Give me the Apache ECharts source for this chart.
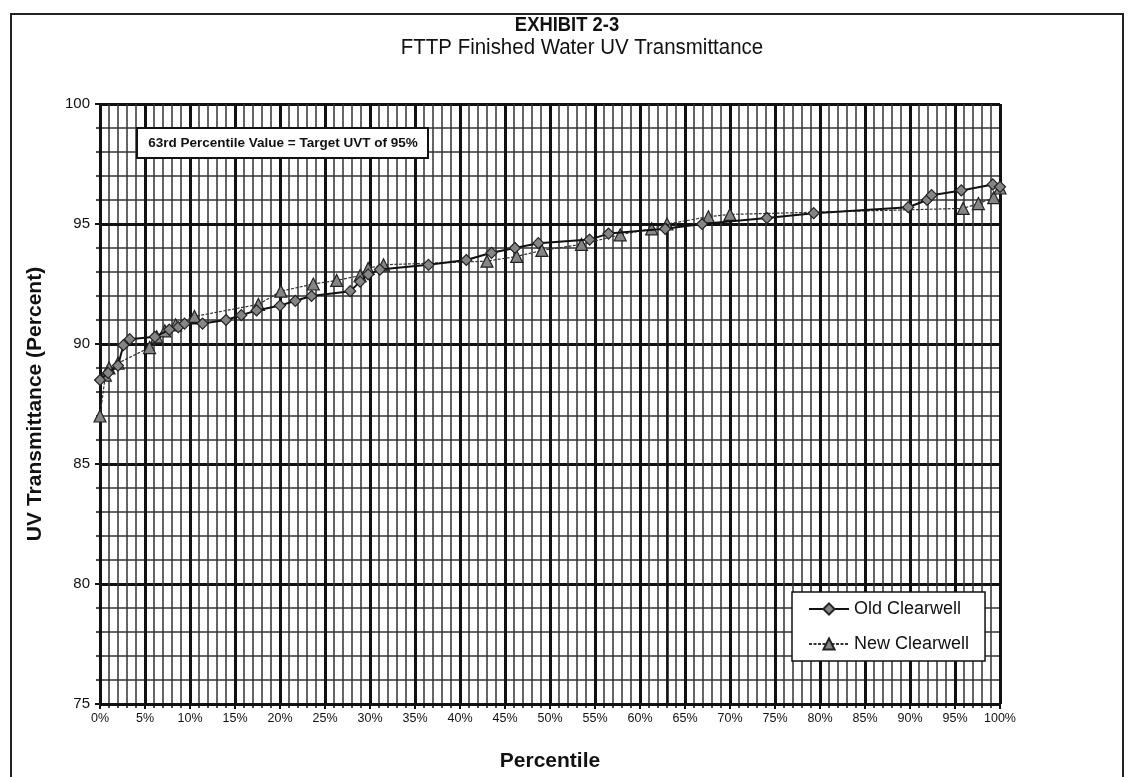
<!DOCTYPE html>
<html>
<head>
<meta charset="utf-8">
<title>FTTP Finished Water UV Transmittance</title>
<script src="https://cdn.jsdelivr.net/npm/echarts@6/dist/echarts.min.js"></script>
<style>
    html, body { margin: 0; padding: 0; background: #fff; }
    #uvtChart { width: 1135px; height: 777px; }
</style>
</head>
<body>
<div id="uvtChart"></div>
<script>
// percentile (%), UVT (%)
var oldPct = [0, 0.9, 2.0, 2.6, 3.3, 6.1, 7.7, 8.7, 9.4, 11.4, 14.0, 15.7, 17.4, 20.0, 21.7, 23.5, 27.8, 28.9, 29.8, 31.1, 36.5, 40.7, 43.5, 46.1, 48.7, 54.4, 56.5, 62.8, 66.9, 74.1, 79.3, 89.8, 91.9, 92.4, 95.7, 99.2, 100];
var oldUvt = [88.5, 88.8, 89.1, 89.95, 90.2, 90.3, 90.6, 90.7, 90.85, 90.85, 91.0, 91.2, 91.4, 91.6, 91.8, 92.0, 92.2, 92.6, 92.9, 93.1, 93.3, 93.5, 93.8, 94.0, 94.2, 94.35, 94.6, 94.8, 95.0, 95.25, 95.45, 95.7, 96.0, 96.2, 96.4, 96.65, 96.55];

var newPct = [0, 0.6, 1.0, 2.0, 5.5, 6.3, 7.2, 8.4, 10.5, 17.6, 20.1, 23.7, 26.3, 28.9, 29.8, 31.5, 43.0, 46.3, 49.1, 53.5, 57.8, 61.3, 63.0, 67.6, 70.0, 95.9, 97.6, 99.3, 100];
var newUvt = [87.0, 88.7, 89.0, 89.2, 89.85, 90.3, 90.55, 90.8, 91.15, 91.65, 92.2, 92.5, 92.65, 92.85, 93.15, 93.3, 93.45, 93.65, 93.9, 94.15, 94.55, 94.8, 95.0, 95.3, 95.4, 95.65, 95.85, 96.1, 96.5];

var targetPct = 63;
var targetUvt = 95;
var seriesNames = ['Old Clearwell', 'New Clearwell'];

(function () {
    'use strict';

    function pairs(xs, ys) {
        var out = [];
        for (var i = 0; i < xs.length; i++) out.push([xs[i], ys[i]]);
        return out;
    }

    var font = 'Liberation Sans, Arial, sans-serif';

    var myChart = echarts.init(document.getElementById('uvtChart'));

    var option = {
        animation: false,
        backgroundColor: '#fff',
        grid: { left: 100, top: 104, width: 900, height: 600 },
        legend: {
            data: seriesNames,
            orient: 'vertical',
            left: 792,
            top: 592,
            padding: [6, 16, 6, 16],
            itemGap: 13,
            itemWidth: 40,
            itemHeight: 14,
            backgroundColor: '#fff',
            borderColor: '#111',
            borderWidth: 1.5,
            textStyle: { fontFamily: font, fontSize: 18, lineHeight: 22, color: '#111' }
        },
        xAxis: {
            type: 'value',
            min: 0,
            max: 100,
            interval: 5,
            name: 'Percentile',
            nameLocation: 'middle',
            nameGap: 47,
            nameTextStyle: { fontFamily: font, fontSize: 21, fontWeight: 'bold', color: '#111' },
            axisLine: { show: true, lineStyle: { color: '#111', width: 2 } },
            axisTick: { show: true, length: 5, lineStyle: { color: '#111', width: 2 } },
            minorTick: { show: true, splitNumber: 5, length: 4, lineStyle: { color: '#111', width: 1.5 } },
            axisLabel: {
                formatter: '{value}%',
                margin: 8,
                fontFamily: font,
                fontSize: 12.5,
                color: '#111'
            },
            splitLine: { show: true, lineStyle: { color: '#111', width: 3 } },
            minorSplitLine: { show: true, lineStyle: { color: '#333', width: 1.5 } }
        },
        yAxis: {
            type: 'value',
            min: 75,
            max: 100,
            interval: 5,
            name: 'UV Transmittance (Percent)',
            nameLocation: 'middle',
            nameGap: 54,
            nameTextStyle: { fontFamily: font, fontSize: 21, fontWeight: 'bold', color: '#111' },
            axisLine: { show: true, lineStyle: { color: '#111', width: 2 } },
            axisTick: { show: true, length: 5, lineStyle: { color: '#111', width: 2 } },
            minorTick: { show: true, splitNumber: 5, length: 4, lineStyle: { color: '#111', width: 1.5 } },
            axisLabel: { margin: 10, fontFamily: font, fontSize: 15, color: '#111' },
            splitLine: { show: true, lineStyle: { color: '#111', width: 3 } },
            minorSplitLine: { show: true, lineStyle: { color: '#333', width: 1.5 } }
        },
        series: [{
            name: seriesNames[0],
            type: 'line',
            data: pairs(oldPct, oldUvt),
            symbol: 'diamond',
            symbolSize: 11,
            lineStyle: { color: '#111', width: 2 },
            itemStyle: { color: '#858585', borderColor: '#222', borderWidth: 1.2 },
            z: 5,
            // target line: 63rd percentile -> 95% UVT
            markLine: {
                silent: true,
                symbol: ['none', 'arrow'],
                symbolSize: [0, 10],
                label: { show: false },
                lineStyle: { color: '#111', width: 2.5, type: 'solid' },
                data: [
                    [{ coord: [targetPct, targetUvt] }, { coord: [0, targetUvt] }],
                    [{ coord: [targetPct, targetUvt], symbol: 'none' }, { coord: [targetPct, 75], symbol: 'none' }]
                ]
            }
        }, {
            name: seriesNames[1],
            type: 'line',
            data: pairs(newPct, newUvt),
            symbol: 'triangle',
            symbolSize: 12,
            lineStyle: { color: '#333', width: 1.2, type: [3, 1.5] },
            itemStyle: { color: '#858585', borderColor: '#222', borderWidth: 1.2 },
            z: 4
        }],
        graphic: [{
            // outer frame of the exhibit
            type: 'rect',
            shape: { x: 11, y: 14, width: 1112, height: 790 },
            style: { fill: 'none', stroke: '#222', lineWidth: 2 },
            silent: true
        }, {
            type: 'text',
            x: 567,
            y: 25,
            scaleX: 0.92,
            style: {
                text: 'EXHIBIT 2-3',
                fontFamily: font,
                fontSize: 20,
                fontWeight: 'bold',
                fill: '#111',
                align: 'center',
                verticalAlign: 'middle'
            }
        }, {
            type: 'text',
            x: 582,
            y: 48,
            scaleX: 0.93,
            style: {
                text: 'FTTP Finished Water UV Transmittance',
                fontFamily: font,
                fontSize: 22,
                fill: '#111',
                align: 'center',
                verticalAlign: 'middle'
            }
        }, {
            type: 'rect',
            shape: { x: 137, y: 128, width: 291, height: 30 },
            style: { fill: '#fff', stroke: '#111', lineWidth: 2 },
            z: 20
        }, {
            type: 'text',
            x: 283,
            y: 143,
            style: {
                text: '63rd Percentile Value = Target UVT of 95%',
                fontFamily: font,
                fontSize: 13.5,
                fontWeight: 'bold',
                fill: '#111',
                align: 'center',
                verticalAlign: 'middle'
            },
            z: 21
        }]
    };

    myChart.setOption(option);
})();
</script>
</body>
</html>
